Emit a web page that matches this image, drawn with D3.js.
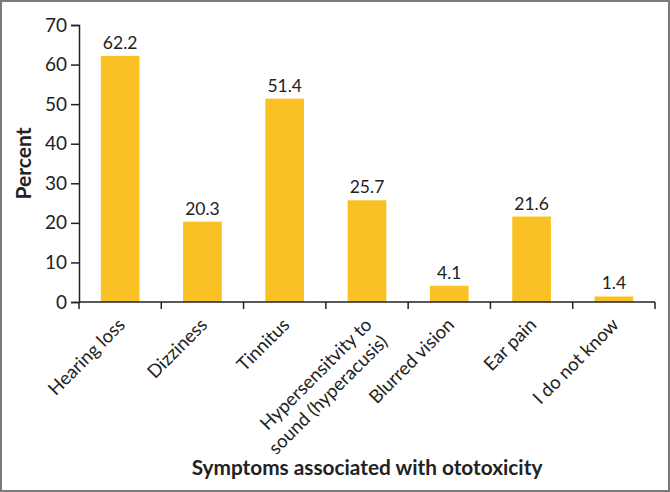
<!DOCTYPE html>
<html>
<head>
<meta charset="utf-8">
<script src="https://cdn.jsdelivr.net/npm/d3@7"></script>
<style>
  html, body { margin: 0; padding: 0; background: #fff; }
  #chart { width: 670px; height: 492px; }
  text { font-family: Lato, "Open Sans", sans-serif; fill: #222; }
</style>
</head>
<body>
<div id="chart"></div>
<script>
const categories = ["Hearing loss", "Dizziness", "Tinnitus", "Hypersensitvity to|sound (hyperacusis)", "Blurred vision", "Ear pain", "I do not know"];
const percents = [62.2, 20.3, 51.4, 25.7, 4.1, 21.6, 1.4];
const yTicks = [0, 10, 20, 30, 40, 50, 60, 70];

const width = 670, height = 492;
const margin = { top: 25, right: 15, bottom: 190, left: 79 };

const svg = d3.select("#chart")
  .append("svg")
  .attr("width", width)
  .attr("height", height);

// frame
svg.append("rect")
  .attr("x", 1).attr("y", 1)
  .attr("width", width - 2).attr("height", height - 2)
  .attr("fill", "none")
  .attr("stroke", "#7a7a7a")
  .attr("stroke-width", 2);

const x = d3.scaleBand()
  .domain(categories)
  .range([margin.left, width - margin.right])
  .paddingInner(0.53)
  .paddingOuter(0.265);

const y = d3.scaleLinear()
  .domain([0, 70])
  .range([height - margin.bottom, margin.top]);

// bars
svg.append("g")
  .selectAll("rect")
  .data(percents)
  .join("rect")
  .attr("x", (d, i) => x(categories[i]))
  .attr("y", d => y(d))
  .attr("width", x.bandwidth())
  .attr("height", d => y(0) - y(d))
  .attr("fill", "#f9c124");

// value labels
svg.append("g")
  .selectAll("text")
  .data(percents)
  .join("text")
  .attr("x", (d, i) => x(categories[i]) + x.bandwidth() / 2)
  .attr("y", d => y(d) - 7)
  .attr("text-anchor", "middle")
  .style("font-size", "17.5px")
  .text(d => d.toFixed(1));

// y axis
const yAxis = svg.append("g")
  .attr("transform", `translate(${margin.left},0)`)
  .call(d3.axisLeft(y).tickValues(yTicks).tickSize(8).tickPadding(4));
yAxis.selectAll("text").style("font-size", "19px").attr("fill", "#222");
yAxis.selectAll("line, path").attr("stroke", "#222").attr("stroke-width", 1.5);

// x axis with ticks at band boundaries
const xg = svg.append("g").attr("transform", `translate(0,${y(0)})`);
xg.append("line")
  .attr("x1", margin.left).attr("x2", width - margin.right)
  .attr("stroke", "#222").attr("stroke-width", 1.5);
const step = x.step();
const bounds = d3.range(categories.length + 1).map(i => margin.left + i * step);
xg.selectAll(".tick")
  .data(bounds)
  .join("line")
  .attr("x1", d => d).attr("x2", d => d)
  .attr("y1", 0).attr("y2", 7)
  .attr("stroke", "#222").attr("stroke-width", 1.5);

// rotated category labels
const labels = svg.append("g")
  .selectAll("text")
  .data(categories)
  .join("text")
  .attr("text-anchor", "end")
  .style("font-size", "18.5px")
  .attr("transform", d => d.includes("|")
    ? `translate(${x(d) + x.bandwidth() / 2 + 6},${y(0) + 24}) rotate(-45)`
    : `translate(${x(d) + x.bandwidth() / 2 + 6},${y(0) + 24}) rotate(-45)`);
labels.each(function(d) {
  const lines = d.split("|");
  const t = d3.select(this);
  lines.forEach((ln, j) => {
    t.append("tspan")
      .attr("x", j === 0 ? 0 : -1)
      .attr("dy", j === 0 ? 0 : "1.25em")
      .text(ln);
  });
});

// axis titles
svg.append("text")
  .attr("transform", `translate(31,${(y(0) + y(70)) / 2}) rotate(-90)`)
  .attr("text-anchor", "middle")
  .style("font-size", "21px")
  .style("font-weight", "bold")
  .text("Percent");

svg.append("text")
  .attr("x", (margin.left + width - margin.right) / 2)
  .attr("y", 475)
  .attr("text-anchor", "middle")
  .style("font-size", "20.8px")
  .style("font-weight", "bold")
  .text("Symptoms associated with ototoxicity");
</script>
</body>
</html>
